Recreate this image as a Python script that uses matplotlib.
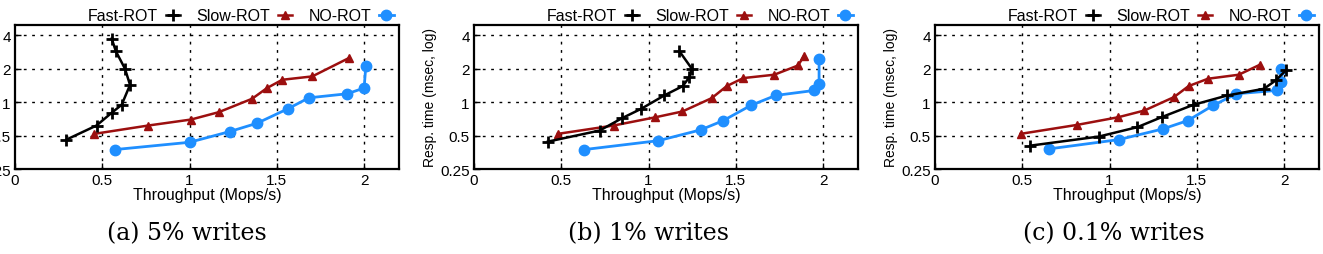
import matplotlib
matplotlib.use("Agg")
import matplotlib.pyplot as plt
from matplotlib.lines import Line2D

# ---- data ----
fast_x_a = [0.295, 0.467, 0.553, 0.611, 0.659, 0.630, 0.578, 0.554]
fast_y_a = [0.46, 0.616, 0.80, 0.946, 1.43, 2.0, 2.87, 3.73]
slow_x_a = [0.454, 0.764, 1.008, 1.167, 1.358, 1.444, 1.531, 1.703, 1.914]
slow_y_a = [0.518, 0.616, 0.697, 0.812, 1.072, 1.34, 1.59, 1.705, 2.50]
no_x_a = [0.573, 1.0, 1.230, 1.387, 1.563, 1.684, 1.904, 2.0, 2.01]
no_y_a = [0.374, 0.435, 0.543, 0.646, 0.871, 1.094, 1.19, 1.34, 2.11]

fast_x_b = [0.423, 0.72, 0.848, 0.958, 1.09, 1.196, 1.234, 1.248, 1.177]
fast_y_b = [0.441, 0.555, 0.717, 0.871, 1.149, 1.395, 1.68, 2.0, 2.87]
slow_x_b = [0.48, 0.80, 1.038, 1.194, 1.362, 1.448, 1.543, 1.72, 1.857, 1.89]
slow_y_b = [0.518, 0.616, 0.73, 0.824, 1.087, 1.395, 1.647, 1.765, 2.14, 2.6]
no_x_b = [0.632, 1.057, 1.299, 1.429, 1.585, 1.728, 1.949, 1.977, 1.977]
no_y_b = [0.374, 0.45, 0.563, 0.683, 0.933, 1.149, 1.274, 1.464, 2.43]

fast_x_c = [0.547, 0.939, 1.159, 1.298, 1.48, 1.675, 1.885, 1.952, 2.01]
fast_y_c = [0.406, 0.49, 0.595, 0.732, 0.946, 1.149, 1.32, 1.57, 1.93]
slow_x_c = [0.49, 0.814, 1.051, 1.2, 1.369, 1.453, 1.564, 1.74, 1.861]
slow_y_c = [0.518, 0.624, 0.732, 0.841, 1.11, 1.395, 1.625, 1.765, 2.17]
no_x_c = [0.652, 1.054, 1.306, 1.449, 1.593, 1.727, 1.957, 1.985, 1.985]
no_y_c = [0.379, 0.46, 0.574, 0.683, 0.933, 1.19, 1.274, 1.516, 2.0]

series_names = ["Fast-ROT", "Slow-ROT", "NO-ROT"]
captions = ["(a) 5% writes", "(b) 1% writes", "(c) 0.1% writes"]
x_ticks = [0, 0.5, 1, 1.5, 2]
x_ticklabels = ["0", "0.5", "1", "1.5", "2"]
y_ticks = [0.25, 0.5, 1, 2, 4]
y_ticklabels = ["0.25", "0.5", "1", "2", "4"]

panels = [
    (fast_x_a, fast_y_a, slow_x_a, slow_y_a, no_x_a, no_y_a),
    (fast_x_b, fast_y_b, slow_x_b, slow_y_b, no_x_b, no_y_b),
    (fast_x_c, fast_y_c, slow_x_c, slow_y_c, no_x_c, no_y_c),
]

# ---- style ----
plt.rcParams['font.family'] = ['Liberation Sans', 'DejaVu Sans']
W, H = 1323, 255
fig = plt.figure(figsize=(W / 100, H / 100), dpi=100)

c_fast = "black"
c_slow = "#9c0f0f"
c_no = "#1f8fff"

ax_lefts = [15, 474, 935]
ax_w = 384
ax_top = 26
ax_bot = 170
cap_x = [187, 648, 1114]

for i, (fx, fy, sx, sy, nx, ny) in enumerate(panels):
    ax = fig.add_axes([ax_lefts[i] / W, 1 - ax_bot / H, ax_w / W, (ax_bot - ax_top) / H])
    ax.set_yscale('log', base=2)
    ax.set_xlim(0, 2.2)
    ax.set_ylim(0.25, 4.95)
    ax.plot(fx, fy, color=c_fast, marker='+', ms=9, mew=2, lw=1.8, label=series_names[0], zorder=4)
    ax.plot(sx, sy, color=c_slow, marker='^', ms=6, lw=1.8, label=series_names[1], zorder=3)
    ax.plot(nx, ny, color=c_no, marker='o', ms=7.5, lw=2, label=series_names[2], zorder=2)
    ax.set_xticks(x_ticks)
    ax.set_xticklabels(x_ticklabels)
    ax.set_yticks(y_ticks)
    ax.set_yticklabels(y_ticklabels)
    ax.yaxis.set_minor_locator(matplotlib.ticker.NullLocator())
    ax.tick_params(direction='in', labelsize=11, length=4, width=1, pad=3)
    for xv in x_ticks[1:]:
        ax.axvline(xv, color='black', lw=1, ls=(0, (2, 4)), zorder=1)
    for yv in y_ticks[1:]:
        ax.axhline(yv, color='black', lw=1, ls=(0, (2, 4)), zorder=1)
    for sp in ax.spines.values():
        sp.set_linewidth(1.6)
    ax.set_xlabel("Throughput (Mops/s)", fontsize=11.5, labelpad=0)
    ax.set_ylabel("Resp. time (msec, log)", fontsize=10, labelpad=2)
    handles = [
        Line2D([], [], color=c_fast, marker='+', ms=9, mew=2, lw=1.8),
        Line2D([], [], color=c_slow, marker='^', ms=6, lw=1.8),
        Line2D([], [], color=c_no, marker='o', ms=7.5, lw=2),
    ]
    ax.legend(handles, series_names, loc='lower right', bbox_to_anchor=(0.99, 1.0),
              ncol=3, frameon=False, markerfirst=False, handlelength=0.9,
              handletextpad=0.5, columnspacing=1.0, fontsize=11.5,
              borderpad=0.1, borderaxespad=0.0)
    fig.text(cap_x[i] / W, 1 - 234 / H, captions[i], ha='center', va='center',
             family='DejaVu Serif', fontsize=17)

fig.savefig("out.png", dpi=100)
